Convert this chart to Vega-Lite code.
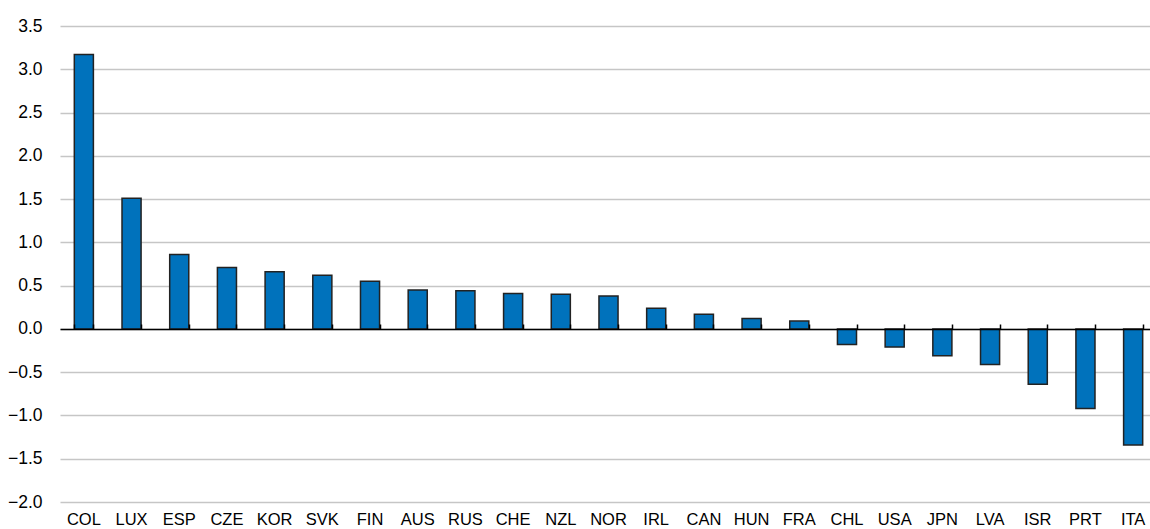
{
  "$schema": "https://vega.github.io/schema/vega-lite/v6.json",
  "width": 1097,
  "height": 476,
  "autosize": "none",
  "padding": {"left": 60, "top": 26, "right": 0, "bottom": 27},
  "background": "white",
  "config": {"view": {"stroke": null}, "font": "Liberation Sans, Arial"},
  "data": {"values": [
    {"country": "COL", "value": 3.17},
    {"country": "LUX", "value": 1.51},
    {"country": "ESP", "value": 0.86},
    {"country": "CZE", "value": 0.71},
    {"country": "KOR", "value": 0.66},
    {"country": "SVK", "value": 0.62},
    {"country": "FIN", "value": 0.55},
    {"country": "AUS", "value": 0.45},
    {"country": "RUS", "value": 0.44},
    {"country": "CHE", "value": 0.41},
    {"country": "NZL", "value": 0.40},
    {"country": "NOR", "value": 0.38},
    {"country": "IRL", "value": 0.24},
    {"country": "CAN", "value": 0.17},
    {"country": "HUN", "value": 0.12},
    {"country": "FRA", "value": 0.09},
    {"country": "CHL", "value": -0.18},
    {"country": "USA", "value": -0.21},
    {"country": "JPN", "value": -0.31},
    {"country": "LVA", "value": -0.41},
    {"country": "ISR", "value": -0.64},
    {"country": "PRT", "value": -0.92},
    {"country": "ITA", "value": -1.34}
  ]},
  "resolve": {"axis": {"x": "independent"}},
  "layer": [
    {
      "mark": {"type": "bar", "fill": "#0072BC", "stroke": "#222222", "strokeWidth": 1.5},
      "encoding": {
        "x": {"field": "country", "type": "nominal", "sort": null,
          "scale": {"paddingInner": 0.6, "paddingOuter": 0.3},
          "axis": {"orient": "bottom", "title": null, "domain": false, "ticks": false, "tickSize": 0,
            "labelAngle": 0, "labelPadding": 9, "labelFontSize": 16.5, "labelColor": "#000000", "grid": false}},
        "y": {"field": "value", "type": "quantitative",
          "scale": {"domain": [-2, 3.5], "nice": false, "zero": false},
          "axis": {"title": null, "values": [-2, -1.5, -1, -0.5, 0, 0.5, 1, 1.5, 2, 2.5, 3, 3.5],
            "format": ".1f", "domain": false, "ticks": false, "labelPadding": 18, "labelFontSize": 17.5,
            "labelColor": "#000000", "grid": true, "gridColor": "#c6c6c6", "gridWidth": 1.7}}
      }
    },
    {
      "mark": {"type": "bar", "opacity": 0},
      "encoding": {
        "x": {"field": "country", "type": "nominal", "sort": null,
          "axis": {"orient": "top", "offset": -303, "title": null, "labels": false, "domain": true,
            "domainColor": "#000000", "domainWidth": 1.5, "ticks": true, "tickBand": "extent",
            "tickSize": 5, "tickColor": "#000000", "tickWidth": 1.5, "grid": false, "zindex": 2}},
        "y": {"field": "value", "type": "quantitative"}
      }
    }
  ]
}
